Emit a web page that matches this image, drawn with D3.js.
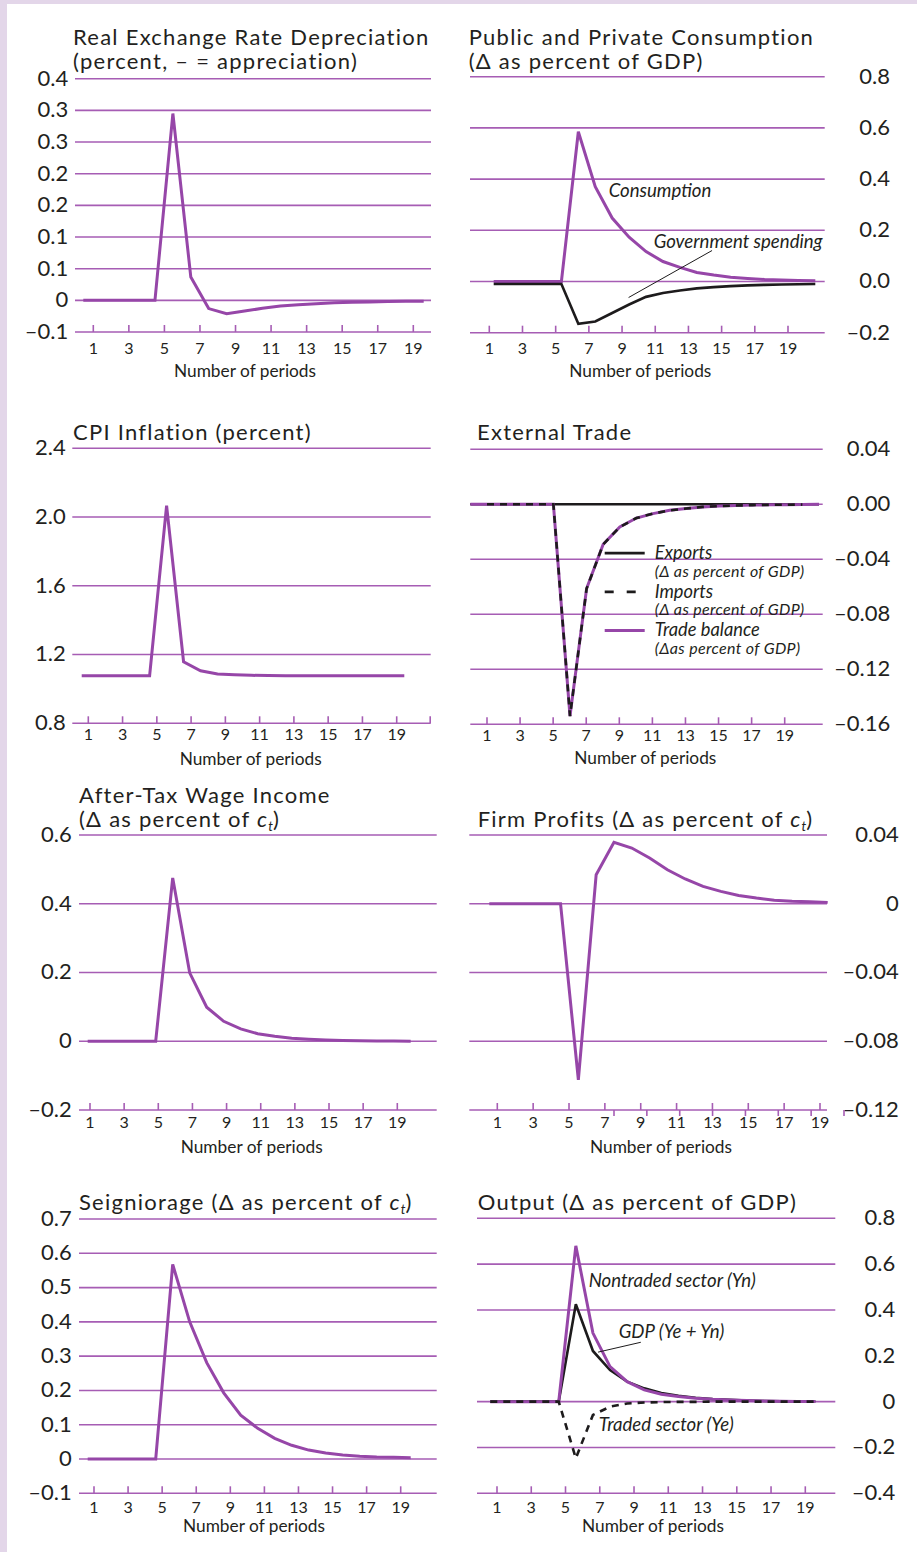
<!DOCTYPE html>
<html>
<head>
<meta charset="utf-8">
<script src="https://cdn.jsdelivr.net/npm/d3@7"></script>
<style>
  html, body { margin: 0; padding: 0; background: #fff; }
  svg { display: block; }
  text { font-family: Lato, "Open Sans", sans-serif; fill: #231f20; }
</style>
</head>
<body>
<svg id="fig" width="917" height="1552"></svg>
<script>
// ---------------------------------------------------------------
// Data: responses over 20 periods (shock hits in period 6)
// ---------------------------------------------------------------
const periods = d3.range(1, 21);
const tradePeriods = d3.range(0, 22);
const xTickPeriods = [1, 3, 5, 7, 9, 11, 13, 15, 17, 19];
const xTickLabels = ["1", "3", "5", "7", "9", "11", "13", "15", "17", "19"];

const rerDepreciation = [0, 0, 0, 0, 0, 0.295, 0.037, -0.013, -0.021, -0.017,
  -0.0126, -0.009, -0.0068, -0.0053, -0.0037, -0.0032, -0.0026, -0.002, -0.0016, -0.0016];

const consumption = [0, 0, 0, 0, 0, 0.585, 0.37, 0.248, 0.173, 0.117,
  0.078, 0.055, 0.035, 0.025, 0.017, 0.012, 0.008, 0.006, 0.004, 0.003];
const govSpending = [-0.01, -0.01, -0.01, -0.01, -0.01, -0.165, -0.156, -0.123, -0.09, -0.06,
  -0.045, -0.035, -0.027, -0.022, -0.018, -0.015, -0.013, -0.012, -0.011, -0.01];

const cpiInflation = [1.077, 1.077, 1.077, 1.077, 1.077, 2.066, 1.158, 1.106, 1.087, 1.082,
  1.079, 1.078, 1.077, 1.077, 1.077, 1.077, 1.077, 1.077, 1.077, 1.077];

const exportsChange = [0, 0, 0, 0, 0, 0, 0, 0, 0, 0, 0,
  0, 0, 0, 0, 0, 0, 0, 0, 0, 0, 0];
const importsChange = [0, 0, 0, 0, 0, -0.154, -0.0613, -0.0291, -0.0165, -0.010,
  -0.0068, -0.0044, -0.0031, -0.0019, -0.0013, -0.0009, -0.0006, -0.0004, -0.0003, -0.0002];
const tradeBalance = [0, 0, 0, 0, 0, 0, -0.154, -0.0613, -0.0291, -0.0165, -0.010,
  -0.0068, -0.0044, -0.0031, -0.0019, -0.0013, -0.0009, -0.0006, -0.0004, -0.0003, -0.0002, 0];

const wageIncome = [0, 0, 0, 0, 0, 0.475, 0.199, 0.099, 0.058, 0.036,
  0.022, 0.0145, 0.009, 0.006, 0.004, 0.0025, 0.0015, 0.001, 0.0005, 0.0003];

const firmProfits = [0, 0, 0, 0, 0, -0.1024, 0.0169, 0.0357, 0.0324, 0.0266,
  0.0198, 0.0144, 0.0101, 0.0072, 0.0048, 0.0033, 0.0021, 0.0014, 0.0011, 0.0008];

const seigniorage = [0, 0, 0, 0, 0, 0.5676, 0.40, 0.281, 0.193, 0.128,
  0.0895, 0.0603, 0.040, 0.026, 0.0175, 0.0117, 0.0078, 0.0058, 0.0049, 0.0039];

const outputNontraded = [0, 0, 0, 0, 0, 0.68, 0.299, 0.153, 0.087, 0.051,
  0.032, 0.022, 0.015, 0.010, 0.007, 0.005, 0.003, 0.002, 0.001, 0.001];
const outputGDP = [0, 0, 0, 0, 0, 0.425, 0.221, 0.138, 0.087, 0.058,
  0.038, 0.025, 0.017, 0.011, 0.008, 0.005, 0.003, 0.002, 0.001, 0.001];
const outputTraded = [0, 0, 0, 0, 0, -0.247, -0.058, -0.022, -0.008, -0.004,
  -0.002, -0.001, -0.001, 0, 0, 0, 0, 0, 0, 0];

// y-axis ticks and their printed labels
const rerTicks = [-0.05, 0, 0.05, 0.10, 0.15, 0.20, 0.25, 0.30, 0.35];
const rerTickLabels = ["–0.1", "0", "0.1", "0.1", "0.2", "0.2", "0.3", "0.3", "0.4"];
const consTicks = [-0.2, 0, 0.2, 0.4, 0.6, 0.8];
const consTickLabels = ["–0.2", "0.0", "0.2", "0.4", "0.6", "0.8"];
const cpiTicks = [0.8, 1.2, 1.6, 2.0, 2.4];
const cpiTickLabels = ["0.8", "1.2", "1.6", "2.0", "2.4"];
const tradeTicks = [-0.16, -0.12, -0.08, -0.04, 0, 0.04];
const tradeTickLabels = ["–0.16", "–0.12", "–0.08", "–0.04", "0.00", "0.04"];
const wageTicks = [-0.2, 0, 0.2, 0.4, 0.6];
const wageTickLabels = ["–0.2", "0", "0.2", "0.4", "0.6"];
const profitTicks = [-0.12, -0.08, -0.04, 0, 0.04];
const profitTickLabels = ["–0.12", "–0.08", "–0.04", "0", "0.04"];
const profitMinorTicks = [8, 10, 12, 14, 16, 18, 20, 22];
const seignTicks = [-0.1, 0, 0.1, 0.2, 0.3, 0.4, 0.5, 0.6, 0.7];
const seignTickLabels = ["–0.1", "0", "0.1", "0.2", "0.3", "0.4", "0.5", "0.6", "0.7"];
const outputTicks = [-0.4, -0.2, 0, 0.2, 0.4, 0.6, 0.8];
const outputTickLabels = ["–0.4", "–0.2", "0", "0.2", "0.4", "0.6", "0.8"];
const outputGridValues = [-0.4, -0.2, 0, 0.4, 0.6, 0.8];

// ---------------------------------------------------------------
// Styles
// ---------------------------------------------------------------
const PURPLE = "#9646a8";
const GRID = "#a65db4";
const BLACK = "#1d1b1c";
const FRAME = "#e3d6e9";

const TITLE_SIZE = 22;
const TITLE_SPACING = 1.25;
const YLABEL_SIZE = 22;
const XLABEL_SIZE = 16;
const AXIS_TITLE_SIZE = 17.3;
const NOTE_SIZE = 18.6;

const svg = d3.select("#fig");
svg.append("rect").attr("width", 917).attr("height", 1552).attr("fill", FRAME);
svg.append("rect").attr("x", 7).attr("y", 4).attr("width", 910).attr("height", 1548).attr("fill", "#fff");

// ---------------------------------------------------------------
// Panel layout
// ---------------------------------------------------------------
const panels = [
  {
    title: [[{t: "Real Exchange Rate Depreciation"}], [{t: "(percent, – = appreciation)"}]],
    titleX: 73, titleY: [44.8, 69.3],
    gridX: [75, 431], tickX: [93.3, 413.3], dataX: [83.3, 423.7],
    y: [[-0.05, 0.35], [332, 78.7]],
    ticks: rerTicks, tickLabels: rerTickLabels, labelX: 68.3,
    xLabelY: 348.5, axisTitle: [245, 376.7],
    series: [{x: periods, v: rerDepreciation, color: PURPLE, w: 3}]
  },
  {
    title: [[{t: "Public and Private Consumption"}], [{t: "(Δ as percent of GDP)"}]],
    titleX: 468.7, titleY: [44.8, 69.3],
    gridX: [470, 824.7], tickX: [489.3, 788], dataX: [493.7, 815.3],
    y: [[-0.2, 0.8], [332.7, 76.7]],
    ticks: consTicks, tickLabels: consTickLabels, labelX: 890,
    xLabelY: 348.5, axisTitle: [640.3, 376.7],
    series: [
      {x: periods, v: consumption, color: PURPLE, w: 3},
      {x: periods, v: govSpending, color: BLACK, w: 2.6}
    ],
    notes: [
      {t: "Consumption", x: 608.7, y: 196.7},
      {t: "Government spending", x: 653.7, y: 248}
    ],
    leaders: [[[13.9, 0.121], [8.97, -0.0625]]]
  },
  {
    title: [[{t: "CPI Inflation (percent)"}]],
    titleX: 73, titleY: [440],
    gridX: [72.3, 430.7], tickX: [88.3, 396.7], dataX: [81.7, 404.3],
    y: [[0.8, 2.4], [723.3, 448.3]],
    ticks: cpiTicks, tickLabels: cpiTickLabels, labelX: 65.7,
    xLabelY: 734, axisTitle: [250.7, 765],
    endTick: true,
    series: [{x: periods, v: cpiInflation, color: PURPLE, w: 3}]
  },
  {
    title: [[{t: "External Trade"}]],
    titleX: 477, titleY: [440],
    gridX: [470.3, 822.7], tickX: [487, 784.7], dataX: [487, 802.4],
    y: [[-0.16, 0.04], [724.3, 449.3]],
    ticks: tradeTicks, tickLabels: tradeTickLabels, labelX: 890.3,
    xLabelY: 735.5, axisTitle: [645.3, 764.3],
    series: [
      {x: tradePeriods, v: exportsChange, color: BLACK, w: 2.6},
      {x: tradePeriods, v: tradeBalance, color: PURPLE, w: 3},
      {x: periods, v: importsChange, color: BLACK, w: 2.6, dash: "7,6"}
    ],
    legend: true
  },
  {
    title: [[{t: "After-Tax Wage Income"}], [{t: "(Δ as percent of "}, {t: "c", it: true}, {t: "t", it: true, sub: true}, {t: ")", back: true}]],
    titleX: 79, titleY: [802.5, 827],
    gridX: [79, 436.7], tickX: [90, 397.3], dataX: [87.7, 410.7],
    y: [[-0.2, 0.6], [1110, 835]],
    ticks: wageTicks, tickLabels: wageTickLabels, labelX: 71.7,
    xLabelY: 1122, axisTitle: [251.7, 1153.3],
    series: [{x: periods, v: wageIncome, color: PURPLE, w: 3}]
  },
  {
    title: [[{t: "Firm Profits (Δ as percent of "}, {t: "c", it: true}, {t: "t", it: true, sub: true}, {t: ")", back: true}]],
    titleX: 477.7, titleY: [826.7],
    gridX: [469.3, 827], tickX: [497.3, 820], dataX: [489.3, 827.7],
    y: [[-0.12, 0.04], [1110, 835]],
    ticks: profitTicks, tickLabels: profitTickLabels, labelX: 898.7,
    xLabelY: 1122, axisTitle: [661, 1153.3],
    minorTicks: {values: profitMinorTicks, range: [[8, 22], [614, 844]]},
    series: [{x: periods, v: firmProfits, color: PURPLE, w: 3}]
  },
  {
    title: [[{t: "Seigniorage (Δ as percent of "}, {t: "c", it: true}, {t: "t", it: true, sub: true}, {t: ")", back: true}]],
    titleX: 79, titleY: [1210],
    gridX: [79, 436.7], tickX: [94, 400.7], dataX: [87.7, 410.7],
    y: [[-0.1, 0.7], [1493.3, 1219]],
    ticks: seignTicks, tickLabels: seignTickLabels, labelX: 71.7,
    xLabelY: 1507, axisTitle: [254, 1531.7],
    series: [{x: periods, v: seigniorage, color: PURPLE, w: 3}]
  },
  {
    title: [[{t: "Output (Δ as percent of GDP)"}]],
    titleX: 477.7, titleY: [1210],
    gridX: [477, 835.3], tickX: [497, 805.3], dataX: [490.3, 815.3],
    y: [[-0.4, 0.8], [1493.3, 1218.3]],
    ticks: outputTicks, tickLabels: outputTickLabels, gridValues: outputGridValues,
    labelX: 895.3,
    xLabelY: 1507, axisTitle: [653, 1531.7],
    series: [
      {x: periods, v: outputGDP, color: BLACK, w: 2.6},
      {x: periods, v: outputNontraded, color: PURPLE, w: 3},
      {x: periods, v: outputTraded, color: BLACK, w: 2.6, dash: "7,6"}
    ],
    notes: [
      {t: "Nontraded sector (Yn)", x: 588.7, y: 1286.7},
      {t: "GDP (Ye + Yn)", x: 618.7, y: 1338.3},
      {t: "Traded sector (Ye)", x: 598.7, y: 1430.7}
    ],
    leaders: [[[9.8, 0.259], [7.3, 0.216]]]
  }
];

panels.forEach(p => {
  const g = svg.append("g");
  const y = d3.scaleLinear().domain(p.y[0]).range(p.y[1]);
  const xt = d3.scaleLinear().domain([1, 19]).range(p.tickX);
  const xd = d3.scaleLinear().domain([1, 20]).range(p.dataX);
  const yMin = p.y[0][0];

  // horizontal grid lines (the lowest one doubles as the x axis)
  const gridVals = p.gridValues || p.ticks;
  g.append("g").selectAll("line").data(gridVals).join("line")
    .attr("x1", p.gridX[0]).attr("x2", p.gridX[1])
    .attr("y1", d => y(d)).attr("y2", d => y(d))
    .attr("stroke", GRID).attr("stroke-width", 1.6);

  // y tick labels
  g.append("g").selectAll("text").data(p.ticks).join("text")
    .attr("x", p.labelX).attr("y", d => y(d) - 1)
    .attr("dy", "0.36em")
    .attr("text-anchor", "end")
    .attr("font-size", YLABEL_SIZE)
    .text((d, i) => p.tickLabels[i]);

  // x ticks rising from the axis
  const axisY = y(yMin);
  const tickVals = xTickPeriods.map(d => xt(d));
  if (p.endTick) tickVals.push(p.gridX[1] - 0.5);
  g.append("g").selectAll("line").data(tickVals).join("line")
    .attr("x1", d => d).attr("x2", d => d)
    .attr("y1", axisY).attr("y2", axisY - 7)
    .attr("stroke", GRID).attr("stroke-width", 1.6);

  // second, offset set of ticks hanging below the axis
  if (p.minorTicks) {
    const xm = d3.scaleLinear().domain(p.minorTicks.range[0]).range(p.minorTicks.range[1]);
    g.append("g").selectAll("line").data(p.minorTicks.values).join("line")
      .attr("x1", d => xm(d)).attr("x2", d => xm(d))
      .attr("y1", axisY).attr("y2", axisY + 6)
      .attr("stroke", GRID).attr("stroke-width", 1.6);
  }

  g.append("g").selectAll("text").data(xTickPeriods).join("text")
    .attr("x", d => xt(d)).attr("y", p.xLabelY)
    .attr("dy", "0.35em").attr("text-anchor", "middle")
    .attr("font-size", XLABEL_SIZE)
    .text((d, i) => xTickLabels[i]);

  g.append("text")
    .attr("x", p.axisTitle[0]).attr("y", p.axisTitle[1])
    .attr("text-anchor", "middle").attr("font-size", AXIS_TITLE_SIZE)
    .text("Number of periods");

  // title lines
  p.title.forEach((line, li) => {
    const t = g.append("text").attr("x", p.titleX).attr("y", p.titleY[li])
      .attr("font-size", TITLE_SIZE).attr("letter-spacing", TITLE_SPACING);
    line.forEach(seg => {
      const s = t.append("tspan").text(seg.t);
      if (seg.it) s.attr("font-style", "italic");
      if (seg.sub) s.attr("font-size", TITLE_SIZE * 0.6).attr("dy", 4).attr("letter-spacing", 0);
      if (seg.back) s.attr("dy", -4);
    });
  });

  // series
  p.series.forEach(s => {
    const pts = s.x.map((px, i) => [xd(px), y(s.v[i])]);
    g.append("path")
      .attr("d", d3.line()(pts))
      .attr("fill", "none")
      .attr("stroke", s.color)
      .attr("stroke-width", s.w)
      .attr("stroke-linejoin", "miter")
      .attr("stroke-miterlimit", 2)
      .attr("stroke-dasharray", s.dash || null);
  });

  // annotations
  (p.notes || []).forEach(n => {
    g.append("text").attr("x", n.x).attr("y", n.y)
      .attr("font-size", NOTE_SIZE).attr("font-style", "italic").text(n.t);
  });
  (p.leaders || []).forEach(l => {
    g.append("line")
      .attr("x1", xd(l[0][0])).attr("y1", y(l[0][1]))
      .attr("x2", xd(l[1][0])).attr("y2", y(l[1][1]))
      .attr("stroke", BLACK).attr("stroke-width", 1);
  });

  // legend for the trade panel
  if (p.legend) {
    const items = [
      {name: "Exports", sub: "(Δ as percent of GDP)", color: BLACK, w: 2.6, dash: null, v: -0.0355},
      {name: "Imports", sub: "(Δ as percent of GDP)", color: BLACK, w: 2.6, dash: "9,13", v: -0.0637},
      {name: "Trade balance", sub: "(Δas percent of GDP)", color: PURPLE, w: 3, dash: null, v: -0.0917}
    ];
    items.forEach(it => {
      const ly = y(it.v);
      g.append("line").attr("x1", 604.7).attr("x2", 644.7)
        .attr("y1", ly).attr("y2", ly)
        .attr("stroke", it.color).attr("stroke-width", it.w)
        .attr("stroke-dasharray", it.dash);
      g.append("text").attr("x", 654.7).attr("y", ly + 6)
        .attr("font-size", 18.3).attr("font-style", "italic").text(it.name);
      g.append("text").attr("x", 654.7).attr("y", ly + 23.5)
        .attr("font-size", 16).attr("letter-spacing", 0.35)
        .attr("font-style", "italic").text(it.sub);
    });
  }
});
</script>
</body>
</html>
